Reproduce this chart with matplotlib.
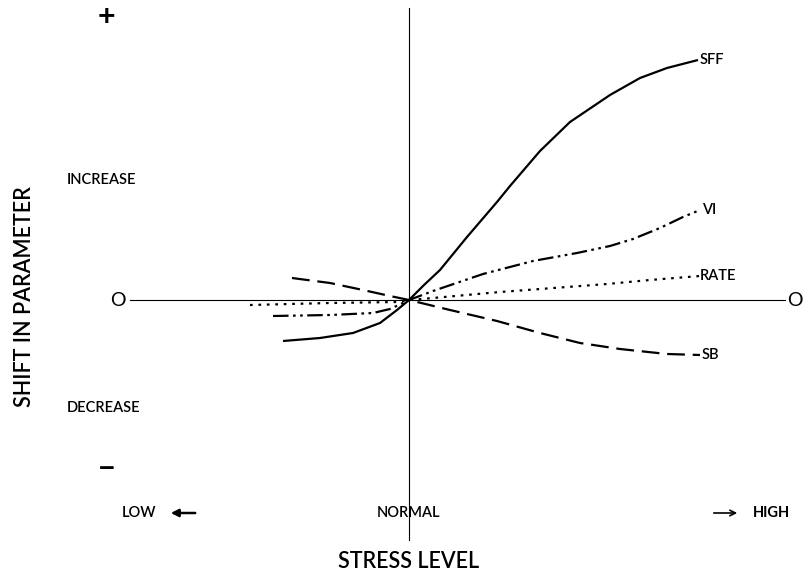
import matplotlib.pyplot as plt

plt.rcParams['font.family'] = ['Lato', 'DejaVu Sans']

# stress level (normal = 0) and shift in parameter (no shift = 0)
sff_x = [-1.26, -0.89, -0.56, -0.29, -0.12, 0.0, 0.15, 0.31, 0.58, 0.88, 1.01, 1.31, 1.61, 2.01, 2.31, 2.58, 2.89]
sff_y = [-0.41, -0.38, -0.33, -0.23, -0.10, 0.0, 0.15, 0.30, 0.63, 0.98, 1.14, 1.49, 1.78, 2.05, 2.22, 2.32, 2.40]

vi_x = [-1.36, -0.79, -0.36, -0.19, -0.06, 0.0, 0.24, 0.74, 1.24, 1.68, 2.01, 2.24, 2.51, 2.74, 2.91]
vi_y = [-0.16, -0.15, -0.13, -0.09, -0.03, 0.0, 0.09, 0.26, 0.39, 0.47, 0.54, 0.61, 0.72, 0.83, 0.90]

rate_x = [-1.59, -0.79, -0.12, 0.0, 0.24, 0.91, 1.58, 1.98, 2.41, 2.91]
rate_y = [-0.05, -0.03, -0.02, 0.0, 0.02, 0.08, 0.13, 0.16, 0.20, 0.24]

sb_x = [-1.17, -0.79, -0.46, -0.19, 0.0, 0.41, 0.88, 1.31, 1.71, 2.11, 2.58, 2.91]
sb_y = [0.22, 0.17, 0.10, 0.04, 0.0, -0.10, -0.21, -0.33, -0.43, -0.49, -0.54, -0.55]

fig = plt.figure(figsize=(8.08, 5.71), dpi=100)
ax = fig.add_axes([0, 0, 1, 1])
ax.set_xlim(-4.09, 3.99)
ax.set_ylim(-2.71, 3.00)
ax.axis('off')

# axes through "normal" and "no shift"
ax.plot([-2.79, 3.76], [0, 0], color='black', lw=0.8)
ax.plot([0, 0], [2.92, -2.40], color='black', lw=0.8)

k = dict(color='black', lw=1.6, solid_capstyle='butt', dash_capstyle='butt',
         solid_joinstyle='round')
ax.plot(sff_x, sff_y, '-', **k)
ax.plot(vi_x, vi_y, dashes=[7, 2, 1.2, 2, 1.2, 2], **k)
ax.plot(rate_x, rate_y, dashes=[1.2, 2.6], **k)
ax.plot(sb_x, sb_y, dashes=[8, 3.5], **k)

lab = dict(fontsize=10.5, fontweight='semibold', va='center', ha='left')
ax.text(2.91, 2.40, 'SFF', **lab)
ax.text(2.93, 0.90, 'VI', **lab)
ax.text(2.91, 0.24, 'RATE', **lab)
ax.text(2.93, -0.55, 'SB', **lab)

ax.text(-3.03, 2.83, '+', fontsize=22, fontweight='bold', ha='center', va='center')
ax.text(-3.02, -1.69, '\u2212', fontsize=22, fontweight='bold', ha='center', va='center')
ax.text(-2.91, 0, 'O', fontsize=14, ha='center', va='center')
ax.text(3.86, 0, 'O', fontsize=14, ha='center', va='center')
ax.text(-3.42, 1.20, 'INCREASE', fontsize=10.5, fontweight='semibold', ha='left', va='center')
ax.text(-3.42, -1.08, 'DECREASE', fontsize=10.5, fontweight='semibold', ha='left', va='center')

ax.text(-2.87, -2.13, 'LOW', fontsize=10.5, fontweight='semibold', ha='left', va='center')
ax.annotate('', xy=(-2.41, -2.13), xytext=(-2.11, -2.13),
            arrowprops=dict(arrowstyle='-|>', color='black', lw=1.8,
                            mutation_scale=11))
ax.text(0, -2.13, 'NORMAL', fontsize=10.5, fontweight='semibold', ha='center', va='center')
ax.annotate('', xy=(3.31, -2.13), xytext=(3.02, -2.13),
            arrowprops=dict(arrowstyle='->', color='black', lw=1.2,
                            mutation_scale=10))
ax.text(3.44, -2.13, 'HIGH', fontsize=10.5, fontweight='bold', ha='left', va='center')

ax.text(0, -2.62, 'STRESS LEVEL', fontsize=15.5, fontweight='semibold', ha='center', va='center')
ax.text(-3.84, 0.03, 'SHIFT IN PARAMETER', fontsize=15.5, fontweight='semibold',
        rotation=90, ha='center', va='center')

fig.savefig('out.png', dpi=100)
